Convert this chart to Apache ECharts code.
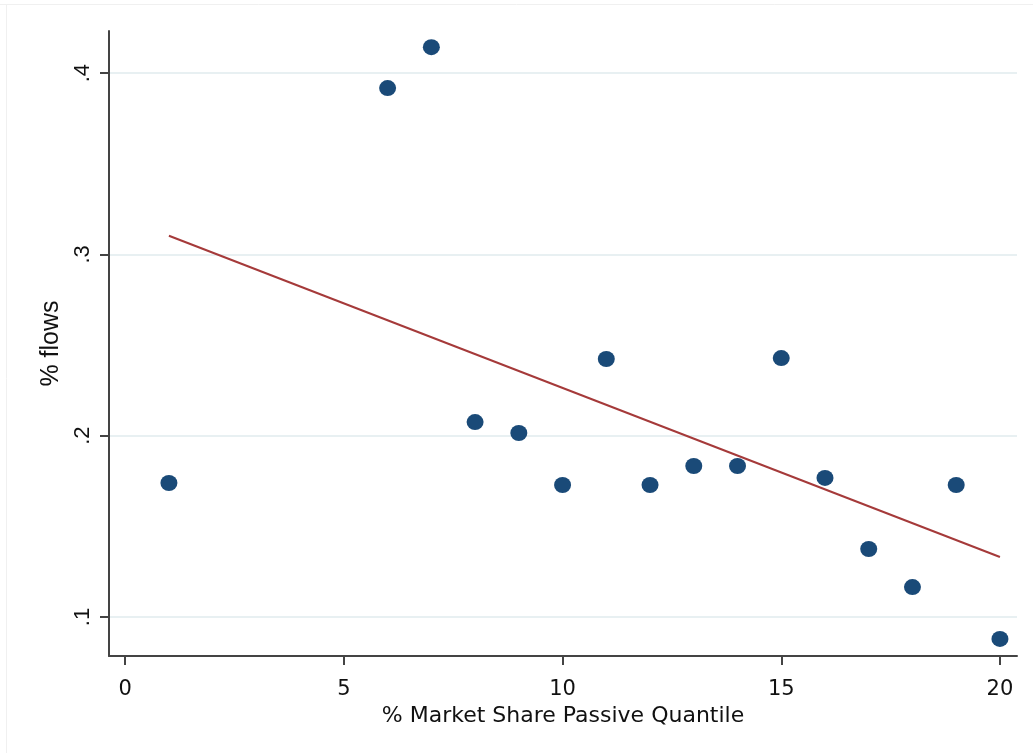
<!DOCTYPE html>
<html>
<head>
<meta charset="utf-8">
<script src="https://cdn.jsdelivr.net/npm/echarts@6/dist/echarts.min.js"></script>
<style>html,body{margin:0;padding:0;background:#fff;}#c{width:1033px;height:753px;}</style>
</head>
<body>
<div id="c"></div>
<script>
const quantiles = [1, 6, 7, 8, 9, 10, 11, 12, 13, 14, 15, 16, 17, 18, 19, 20];
const flows = [0.1739, 0.3917, 0.4143, 0.2075, 0.2015, 0.1728, 0.2423, 0.1728, 0.1833, 0.1833, 0.2428, 0.1767, 0.1375, 0.1165, 0.1728, 0.0879];
const fitX = [1, 20];
const fitY = [0.3103, 0.1331];
const xTicks = [0, 5, 10, 15, 20];
const yTicks = [0.1, 0.2, 0.3, 0.4];
const xTitle = '% Market Share Passive Quantile';
const yTitle = '% flows';

const fontH = '"DejaVu Sans", "Liberation Sans", Arial, sans-serif';
const fontV = '"Liberation Sans", Arial, sans-serif';
const ellipse = 'path://M0,50 A50,50 0 1,1 100,50 A50,50 0 1,1 0,50 Z';
const chart = echarts.init(document.getElementById('c'), null, {renderer: 'canvas'});
chart.setOption({
  animation: false,
  backgroundColor: '#ffffff',
  graphic: [
    {type: 'line', shape: {x1: 0, y1: 4.5, x2: 1033, y2: 4.5}, style: {stroke: '#f0f0f0', lineWidth: 1}, silent: true},
    {type: 'line', shape: {x1: 6.5, y1: 4, x2: 6.5, y2: 753}, style: {stroke: '#f0f0f0', lineWidth: 1}, silent: true}
  ],
  grid: {left: 109, right: 16, top: 31, bottom: 97, containLabel: false},
  xAxis: {
    type: 'value', min: -0.37, max: 20.39,
    name: xTitle, nameLocation: 'middle', nameGap: 49,
    nameTextStyle: {fontFamily: fontH, fontSize: 22, color: '#111'},
    axisLine: {show: true, onZero: false, lineStyle: {color: '#444', width: 2}},
    axisTick: {show: true, length: 9, lineStyle: {color: '#444', width: 2}, customValues: xTicks},
    axisLabel: {fontFamily: fontH, fontSize: 21, color: '#111', margin: 23, customValues: xTicks, formatter: v => String(v)},
    splitLine: {show: false}
  },
  yAxis: {
    type: 'value', min: 0.0785, max: 0.4232,
    name: yTitle, nameLocation: 'middle', nameGap: 42, nameRotate: 90,
    nameTextStyle: {fontFamily: fontV, fontSize: 25, color: '#111'},
    axisLine: {show: true, onZero: false, lineStyle: {color: '#444', width: 2}},
    axisTick: {show: true, length: 9, lineStyle: {color: '#444', width: 2}, customValues: yTicks},
    axisLabel: {fontFamily: fontV, fontSize: 22, color: '#111', margin: 15, rotate: 90, customValues: yTicks,
      formatter: v => String(Math.round(v * 10) / 10).replace(/^0/, '')},
    splitLine: {show: true, lineStyle: {color: '#e8f0f2', width: 2}}
  },
  series: [
    {
      type: 'line', data: fitX.map((x, i) => [x, fitY[i]]), symbol: 'none',
      lineStyle: {color: '#a53a3a', width: 2}, z: 2
    },
    {
      type: 'scatter', data: quantiles.map((x, i) => [x, flows[i]]), symbol: ellipse, symbolSize: [17, 16],
      itemStyle: {color: '#1a4a78', opacity: 1}, z: 3
    }
  ]
});
</script>
</body>
</html>
